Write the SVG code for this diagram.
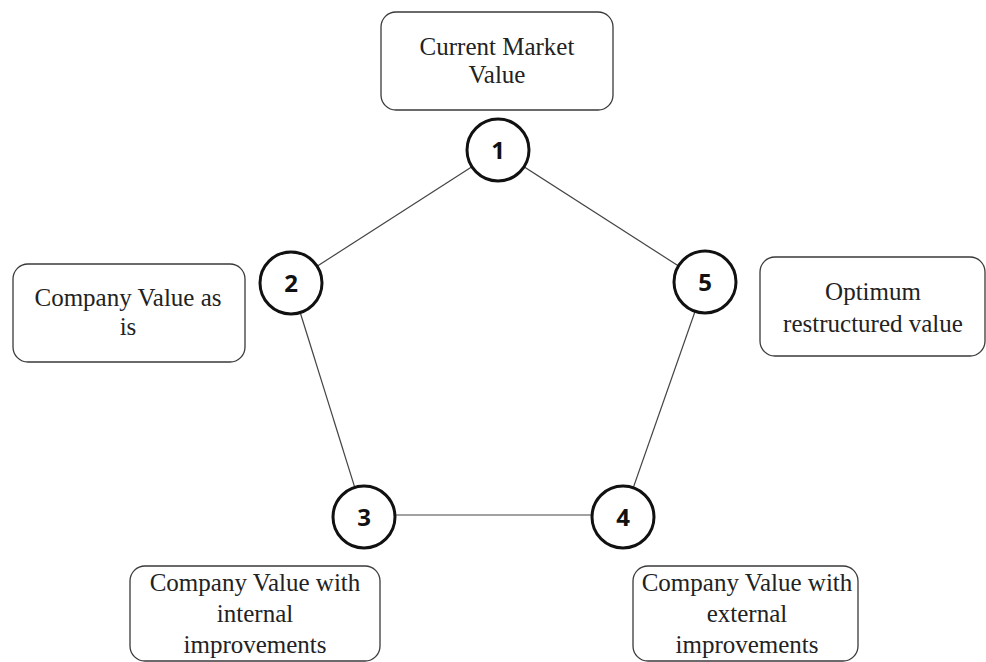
<svg xmlns="http://www.w3.org/2000/svg" width="986" height="662" viewBox="0 0 986 662">
<style>
.box{fill:#fff;stroke:#3a3a3a;stroke-width:1.3}
.lbl{font-family:"Liberation Serif","Times New Roman",serif;font-size:25px;fill:#222;text-anchor:middle}
.circ{fill:#fff;stroke:#111;stroke-width:3}
.num{font-family:"Open Sans","DejaVu Sans",sans-serif;font-weight:bold;font-size:24px;fill:#111;text-anchor:middle}
.edge{stroke:#444;stroke-width:1.2;fill:none}
</style>
<rect width="986" height="662" fill="#fff"/>
<g id="connectors">
<line class="edge" x1="498" y1="150" x2="291" y2="283"/>
<line class="edge" x1="498" y1="150" x2="705" y2="283"/>
<line class="edge" x1="291" y1="283" x2="364" y2="517"/>
<line class="edge" x1="705" y1="283" x2="623" y2="517"/>
<line class="edge" x1="364" y1="515" x2="623" y2="515"/>
</g>
<g id="box1">
<rect class="box" x="381" y="12" width="232" height="98" rx="15"/>
<text class="lbl" x="497" y="55">Current Market</text>
<text class="lbl" x="497" y="83">Value</text>
</g>
<g id="box2">
<rect class="box" x="13" y="264" width="232" height="98" rx="15"/>
<text class="lbl" x="128" y="306">Company Value as</text>
<text class="lbl" x="128" y="335">is</text>
</g>
<g id="box5">
<rect class="box" x="760" y="257" width="225" height="99" rx="15"/>
<text class="lbl" x="873" y="300">Optimum</text>
<text class="lbl" x="873" y="332">restructured value</text>
</g>
<g id="box3">
<rect class="box" x="130" y="566" width="250" height="95" rx="15"/>
<text class="lbl" x="255" y="591">Company Value with</text>
<text class="lbl" x="255" y="622">internal</text>
<text class="lbl" x="255" y="653">improvements</text>
</g>
<g id="box4">
<rect class="box" x="633" y="566" width="225" height="95" rx="15"/>
<text class="lbl" x="747" y="591">Company Value with</text>
<text class="lbl" x="747" y="622">external</text>
<text class="lbl" x="747" y="653">improvements</text>
</g>
<g id="node1"><circle class="circ" cx="498" cy="150" r="31"/><text class="num" x="498" y="159">1</text></g>
<g id="node2"><circle class="circ" cx="291" cy="283" r="31"/><text class="num" x="291" y="292">2</text></g>
<g id="node5"><circle class="circ" cx="705" cy="282" r="31"/><text class="num" x="705" y="291">5</text></g>
<g id="node3"><circle class="circ" cx="364" cy="517" r="31"/><text class="num" x="364" y="526">3</text></g>
<g id="node4"><circle class="circ" cx="623" cy="517" r="31"/><text class="num" x="623" y="526">4</text></g>
</svg>
